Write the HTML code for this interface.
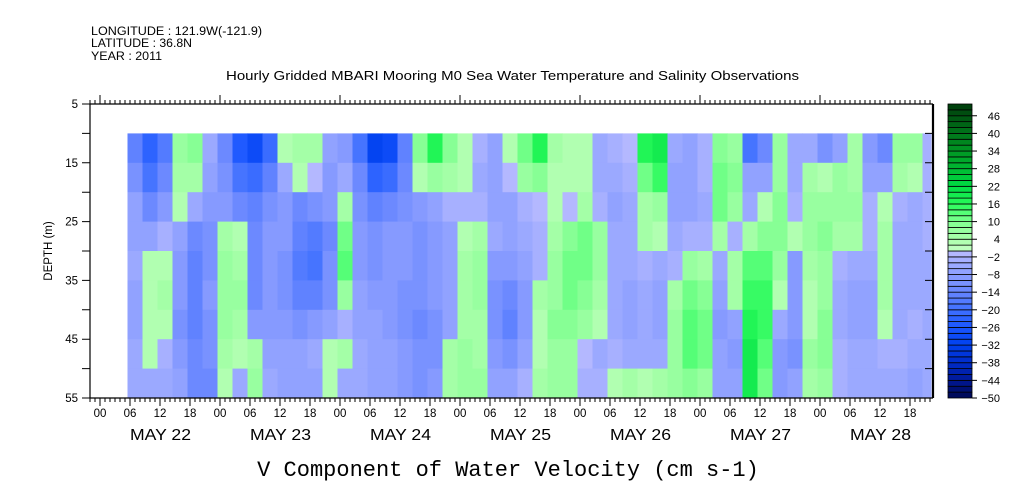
<!DOCTYPE html>
<html><head><meta charset="utf-8">
<style>
html,body{margin:0;padding:0;background:#fff;}
svg{display:block;}
text{font-family:"Liberation Sans",sans-serif;fill:#000;}
</style></head>
<body>
<svg id="chart" width="1009" height="504" viewBox="0 0 1009 504" xmlns="http://www.w3.org/2000/svg">
  <text x="91" y="35" font-size="11.5" textLength="171" lengthAdjust="spacingAndGlyphs">LONGITUDE : 121.9W(-121.9)</text>
  <text x="91" y="47" font-size="11.5" textLength="101" lengthAdjust="spacingAndGlyphs">LATITUDE : 36.8N</text>
  <text x="91" y="60" font-size="11.5" textLength="71" lengthAdjust="spacingAndGlyphs">YEAR : 2011</text>
  <text x="226" y="80" font-size="13" textLength="573" lengthAdjust="spacingAndGlyphs">Hourly Gridded MBARI Mooring M0 Sea Water Temperature and Salinity Observations</text>
  <text x="508" y="476" font-size="22" text-anchor="middle" style="font-family:'Liberation Mono',monospace">V Component of Water Velocity (cm s-1)</text>
  <text transform="translate(52,251) rotate(-90)" font-size="11.5" text-anchor="middle">DEPTH (m)</text>
  <g id="cells"></g>
  <g id="axes"></g>
  <g id="cbar"></g>
</svg>
<script>
// ---- data ----
const startHour = 5.5;          // first column start (hours after May 22 00:00)
const colHours = 3;             // hours per column
const depthEdges = [10,15,20,25,30,35,40,45,50,55];
const dayLabels = ["MAY 22","MAY 23","MAY 24","MAY 25","MAY 26","MAY 27","MAY 28"];
const hourLabels = ["00","06","12","18"];
const depthTicks = [5,15,25,35,45,55];
const cbarLabels = [46,40,34,28,22,16,10,4,-2,-8,-14,-20,-26,-32,-38,-44,-50];
// each inner array = one time column, values top (10 m) to bottom (55 m)
const values = [
[-16,-12,-8,-8,-6,-8,-8,-6,-6],
[-24,-20,-14,-8,2,2,2,2,-6],
[-18,-14,-10,-4,2,4,2,-4,-6],
[6,4,2,-8,-10,-10,-12,-10,-8],
[8,4,-6,-14,-16,-16,-16,-14,-14],
[-6,-8,-10,-12,-12,-10,-12,-12,-14],
[-14,-12,-10,4,6,6,6,4,2],
[-26,-20,-14,2,4,6,4,2,-6],
[-30,-22,-16,-14,-14,-14,-10,4,6],
[-22,-16,-12,-10,-10,-10,-10,-8,-6],
[2,-6,-10,-10,-12,-12,-10,-8,-8],
[4,2,-14,-16,-18,-16,-12,-8,-8],
[4,-2,-12,-18,-20,-16,-10,-6,-8],
[-8,-10,-10,-14,-12,-12,-8,2,2],
[-10,-6,4,10,12,6,-4,4,-6],
[-20,-14,-12,-10,-10,-8,-8,-6,-6],
[-32,-24,-16,-12,-12,-10,-8,-8,-8],
[-30,-22,-14,-10,-10,-10,-10,-8,-8],
[-16,-14,-12,-10,-10,-12,-12,-10,-10],
[8,2,-10,-12,-12,-12,-14,-12,-12],
[16,6,-8,-10,-10,-10,-12,-12,-10],
[8,4,-4,-8,-8,-8,-8,4,4],
[2,2,-4,2,4,4,4,6,6],
[-4,-6,-4,4,6,6,4,4,6],
[-8,-8,-8,-6,-10,-12,-12,-10,-8],
[2,-2,-8,-8,-10,-14,-16,-12,-8],
[10,6,-4,-6,-8,-10,-10,-8,-4],
[16,8,-2,-4,-4,4,2,2,4],
[4,2,2,4,6,6,8,6,6],
[2,2,-2,8,10,10,8,6,6],
[2,2,4,10,10,8,6,-2,-4],
[-6,-6,-4,6,6,4,2,-6,-4],
[-4,-6,-8,-6,-6,-6,-6,-4,2],
[-2,-4,-6,-6,-6,-8,-8,-6,4],
[16,10,4,4,-4,-6,-6,-6,2],
[18,14,6,2,-6,-8,-8,-6,4],
[-6,-8,-8,-6,-4,4,6,6,6],
[-8,-8,-8,-4,6,10,12,12,8],
[-4,-4,-6,-4,4,8,10,10,6],
[8,10,10,4,-6,-8,-10,-8,-8],
[6,8,6,-4,4,4,-8,-10,-8],
[-20,-8,-6,4,12,14,16,18,18],
[-14,-8,2,8,12,14,14,12,10],
[6,6,8,8,6,2,-6,-10,-10],
[-6,-6,-4,2,-10,-10,-10,-12,-8],
[-6,4,6,6,4,2,2,6,4],
[-12,2,6,8,6,6,8,8,6],
[-8,6,6,4,-4,-6,-6,-4,-4],
[4,4,6,4,-6,-8,-8,-6,-6],
[-10,-8,-4,-4,-6,-8,-8,-6,-6],
[-14,-8,2,4,4,4,2,-4,-6],
[6,4,-4,-6,-6,-6,-6,-4,-6],
[6,2,-6,-6,-6,-6,-4,-6,-8],
[-4,-4,-4,-4,-6,-6,-6,-6,-6]
];
// ---- scales ----
const X0=100, PXH=5;
const xOf = h => X0 + h*PXH;
const Y0=104, PXM=294/50;
const yOf = d => Y0 + (d-5)*PXM;
const LEFT=90, RIGHT=933, TOP=104, BOT=398;
const DATA_RIGHT=931;
const stops=[[-50,[0,8,80]],[-44,[0,24,150]],[-38,[0,44,200]],[-32,[0,64,238]],[-26,[26,86,255]],[-20,[64,112,255]],[-14,[102,133,255]],[-8,[140,158,255]],[-4,[160,172,255]],[-1,[180,184,255]],[0.01,[196,255,196]],[4,[170,255,170]],[8,[146,255,156]],[12,[100,255,128]],[16,[40,250,90]],[22,[0,220,68]],[28,[0,185,50]],[34,[0,150,36]],[40,[0,118,26]],[50,[0,60,12]]];
function colorOf(v){
  const lv=Math.max(-50,Math.min(48,Math.floor(v/2)*2))+1;
  for(let i=0;i<stops.length-1;i++){
    const a=stops[i],b=stops[i+1];
    if(lv<=b[0]){const t=Math.max(0,(lv-a[0])/(b[0]-a[0]));
      return 'rgb('+a[1].map((c,k)=>Math.round(c+(b[1][k]-c)*t)).join(',')+')';}
  }
  return 'rgb(0,60,12)';
}
const NS="http://www.w3.org/2000/svg";
function mk(tag,attrs,parent){const e=document.createElementNS(NS,tag);for(const k in attrs)e.setAttribute(k,attrs[k]);parent.appendChild(e);return e;}
// ---- heatmap ----
const cells=document.getElementById('cells');
values.forEach((col,i)=>{
  const x1=xOf(startHour+i*colHours), x2=Math.min(DATA_RIGHT,xOf(startHour+(i+1)*colHours));
  col.forEach((v,j)=>{
    const y1=yOf(depthEdges[j]), y2=yOf(depthEdges[j+1]);
    const r=mk('rect',{x:x1,y:y1,width:x2-x1+0.5,height:y2-y1+0.5,fill:colorOf(v)},cells);
    
    
  });
});
// ---- axes ----
const ax=document.getElementById('axes');
const frame=mk('path',{d:`M${LEFT} ${TOP}V${BOT}H${RIGHT}M${LEFT} ${TOP}H${RIGHT}`,stroke:'#000','stroke-width':1.2,fill:'none'},ax);


const rl=mk('line',{x1:RIGHT,y1:TOP,x2:RIGHT,y2:BOT,stroke:'#000','stroke-width':2.2},ax);


let tk='';
for(let h=-2;h<=166;h++){
  const x=xOf(h); if(x<LEFT||x>RIGHT)continue;
  const hh=((h%24)+24)%24;
  const topLen = hh===0?9:4;
  const botLen = hh%6===0?8:4;
  tk+=`M${x} ${TOP}v${-topLen}M${x} ${BOT}v${botLen}`;
}
for(let d=5;d<=55;d+=5){const y=yOf(d);tk+=`M${LEFT} ${y}h-8M${RIGHT} ${y}h-8`;}
const ticks=mk('path',{d:tk,stroke:'#000','stroke-width':1,fill:'none'},ax);


for(let h=0;h<=166;h+=6){
  const t=mk('text',{x:xOf(h),y:417,'font-size':11.5,'text-anchor':'middle'},ax);
  t.textContent=hourLabels[(h%24)/6];
  
  
}
dayLabels.forEach((s,i)=>{
  const t=mk('text',{x:xOf(i*24+12)-30,y:440,'font-size':16,textLength:61,lengthAdjust:'spacingAndGlyphs'},ax);
  t.textContent=s;
  
  
});
depthTicks.forEach(d=>{
  const t=mk('text',{x:78,y:yOf(d)+4,'font-size':11.5,'text-anchor':'end'},ax);
  t.textContent=d;
  
  
});
// ---- colorbar ----
const cb=document.getElementById('cbar');
const CBX=948, CBW=24, cy=v=>BOT-(v+50)/100*(BOT-TOP);
for(let v=-50;v<50;v+=2){
  const r=mk('rect',{x:CBX,y:cy(v+2),width:CBW,height:cy(v)-cy(v+2),fill:colorOf(v+1),stroke:'#000','stroke-width':0.8},cb);
  
  
}
cbarLabels.forEach(v=>{
  const y=cy(v);
  const l=mk('line',{x1:CBX+CBW,y1:y,x2:CBX+CBW+5,y2:y,stroke:'#000','stroke-width':1},cb);
  
  
  const t=mk('text',{x:1000,y:y+4,'font-size':11,'text-anchor':'end'},cb);
  t.textContent=v<0?'\u2212'+(-v):String(v);
  
  
});
</script>
</body></html>
